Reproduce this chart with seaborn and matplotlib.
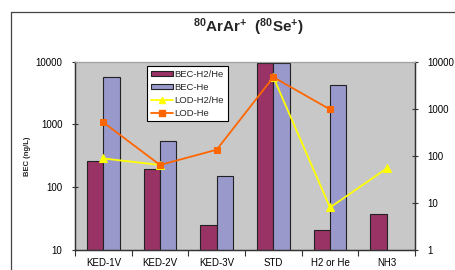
import numpy as np
import pandas as pd
import matplotlib
matplotlib.use("Agg")
import matplotlib.pyplot as plt
import matplotlib.patches as mpatches
import matplotlib.lines as mlines
import seaborn as sns

categories = ["KED-1V", "KED-2V", "KED-3V", "STD", "H2 or He", "NH3"]
bec_h2he = [259, 193, 25, 9500, 21, 38]
bec_he = [5800, 550, 153, 9500, 4200, np.nan]
lod_h2he = [88, 64, np.nan, 4700, 8, 54]
lod_he = [515, 64, 135, 4700, 970, np.nan]
left_ticks = [10, 100, 1000, 10000]
right_ticks = [1, 10, 100, 1000, 10000]

sns.set_theme(style="white")
plt.rcParams["font.family"] = ["Liberation Sans", "DejaVu Sans"]
plt.rcParams["mathtext.fontset"] = "custom"
plt.rcParams["mathtext.rm"] = "Liberation Sans"
plt.rcParams["mathtext.bf"] = "Liberation Sans:bold"

c_maroon = "#993366"
c_lav = "#9999cc"
c_yel = "#ffff00"
c_org = "#ff6600"

fig = plt.figure(figsize=(4.56, 2.70), dpi=100)
fig.patch.set_facecolor("white")
ax = fig.add_axes([75/456, 1-250/270, 340/456, (250-61.7)/270])
ax.set_facecolor("#c8c8c8")

bars = pd.DataFrame({
    "cat": categories * 2,
    "val": bec_h2he + bec_he,
    "series": ["BEC-H2/He"] * 6 + ["BEC-He"] * 6,
})
sns.barplot(data=bars, x="cat", y="val", hue="series", order=categories,
            hue_order=["BEC-H2/He", "BEC-He"], palette=[c_maroon, c_lav],
            width=0.58, saturation=1, edgecolor="#222222", linewidth=0.8,
            legend=False, ax=ax, log_scale=(False, True))
ax.set_yscale("log")
ax.set_ylim(10, 10000)
ax.set_xlim(-0.5, 5.5)

ax2 = ax.twinx()
pos = list(range(len(categories)))
seg_y = [0, 0, 1, 1, 1, 1]
lines = pd.DataFrame({
    "x": pos * 2,
    "val": lod_h2he + lod_he,
    "series": ["LOD-H2/He"] * 6 + ["LOD-He"] * 6,
    "seg": seg_y + [0] * 6,
})
lines = lines.dropna()
sns.lineplot(data=lines[lines.series == "LOD-H2/He"], x="x", y="val", units="seg",
             estimator=None, color=c_yel, marker="^", markersize=5.5, linewidth=1.3,
             markeredgecolor=c_yel, legend=False, ax=ax2, sort=False)
sns.lineplot(data=lines[lines.series == "LOD-He"], x="x", y="val", units="seg",
             estimator=None, color=c_org, marker="s", markersize=5, linewidth=1.3,
             markeredgecolor=c_org, legend=False, ax=ax2, sort=False)
ax2.set_yscale("log")
ax2.set_ylim(1, 10000)
ax2.set_xlim(-0.5, 5.5)

# ticks
ax.set_xticks(pos)
ax.set_xticklabels(categories, fontsize=7, color="black")
ax.set_xticks([i + 0.5 for i in range(-1, 6)], minor=True)
ax.tick_params(axis="x", which="major", length=0, pad=6)
ax.tick_params(axis="x", which="minor", length=4, width=0.8, color="#333333", direction="out", bottom=True)
ax.set_yticks(left_ticks)
ax.set_yticklabels([str(t) for t in left_ticks], fontsize=7, color="black")
ax.yaxis.set_minor_locator(matplotlib.ticker.NullLocator())
ax.tick_params(axis="y", which="major", length=4, width=0.8, color="#333333", direction="inout", left=True, pad=7)
ax2.set_yticks(right_ticks)
ax2.set_yticklabels([str(t) for t in right_ticks], fontsize=7, color="black")
ax2.yaxis.set_minor_locator(matplotlib.ticker.NullLocator())
ax2.tick_params(axis="y", which="major", length=4, width=0.8, color="#333333", direction="inout", right=True, pad=7)
ax2.set_ylabel("")
ax2.set_xlabel("")
ax.set_xlabel("")
ax.set_ylabel("BEC (ng/L)", fontsize=5.5, fontweight="bold", labelpad=8)
ax.yaxis.set_label_coords(-44/340, 0.5)

for a in (ax, ax2):
    for s in ["left", "bottom", "right"]:
        a.spines[s].set_color("#333333")
        a.spines[s].set_linewidth(0.9)
    a.spines["top"].set_color("#a0a0a0")
    a.spines["top"].set_linewidth(0.8)

# legend
handles = [
    mpatches.Patch(facecolor=c_maroon, edgecolor="#222222", linewidth=0.8),
    mpatches.Patch(facecolor=c_lav, edgecolor="#222222", linewidth=0.8),
    mlines.Line2D([], [], color=c_yel, marker="^", markersize=4, linewidth=1.3),
    mlines.Line2D([], [], color=c_org, marker="s", markersize=4, linewidth=1.3),
]
labels = ["BEC-H2/He", "BEC-He", "LOD-H2/He", "LOD-He"]
leg = ax2.legend(handles, labels, loc="upper left", bbox_to_anchor=(72.3/340, (250-66)/188.3),
                 borderaxespad=0, fontsize=6.8, frameon=True, fancybox=False,
                 handlelength=2.3, handleheight=0.45, handletextpad=0.2,
                 labelspacing=0.42, borderpad=0.4)
leg.get_frame().set_edgecolor("black")
leg.get_frame().set_linewidth(0.8)
leg.get_frame().set_facecolor("white")
leg.get_frame().set_alpha(1)

fig.text(248/456, 1-27.5/270, r"$\mathbf{{}^{80}ArAr^{+}}$  $\mathbf{(^{80}Se^{+})}$",
         ha="center", va="center", fontsize=11, fontweight="bold")

# outer chart border (left and top edges only; others run off the figure)
bx = 10.7/456
by = 1 - 12.3/270
fig.add_artist(mlines.Line2D([bx, bx], [0, by], transform=fig.transFigure,
                             color="#444444", linewidth=0.9))
fig.add_artist(mlines.Line2D([bx, 1], [by, by], transform=fig.transFigure,
                             color="#444444", linewidth=0.9))

fig.savefig("out.png", dpi=100, facecolor="white", edgecolor="white")
